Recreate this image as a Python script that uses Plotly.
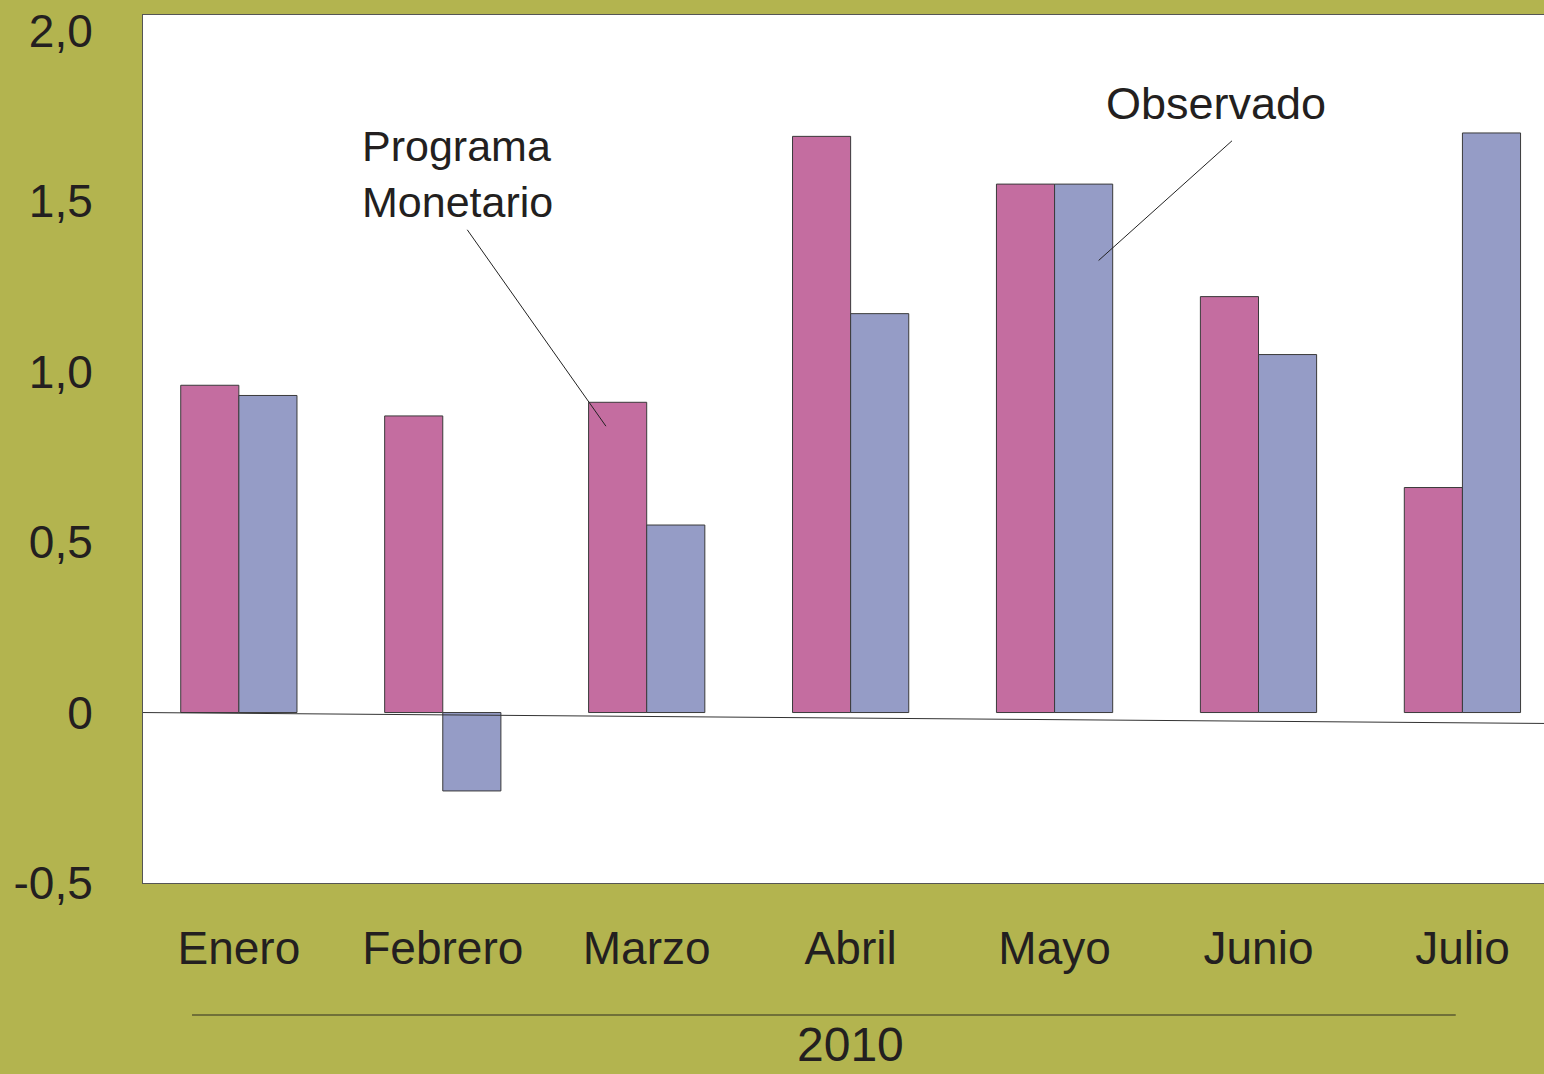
"""Programa Monetario vs Observado, 2010 monthly bars."""

import plotly.graph_objects as go

months = ["Enero", "Febrero", "Marzo", "Abril", "Mayo", "Junio", "Julio"]
programa = [0.96, 0.87, 0.91, 1.69, 1.55, 1.22, 0.66]
observado = [0.93, -0.23, 0.55, 1.17, 1.55, 1.05, 1.70]
y_ticks = [2.0, 1.5, 1.0, 0.5, 0.0, -0.5]
y_labels = ["2,0", "1,5", "1,0", "0,5", "0", "-0,5"]

OLIVE = "#b3b44f"
PINK = "#c46da0"
BLUE = "#959cc6"
FONT = "Liberation Sans"
TEXT = "#231f20"

fig = go.Figure()
fig.add_trace(go.Bar(x=months, y=programa, name="Programa Monetario",
                     marker=dict(color=PINK, line=dict(color="#3a3a3a", width=1))))
fig.add_trace(go.Bar(x=months, y=observado, name="Observado",
                     marker=dict(color=BLUE, line=dict(color="#3a3a3a", width=1))))

# slightly tilted zero line like the original
fig.add_shape(type="line", xref="paper", yref="y", x0=0, x1=1, y0=0, y1=-0.032,
              line=dict(color="#333333", width=1))

# labels with leader lines
fig.add_annotation(x=0.593, y=1.58, text="Programa<br>Monetario", showarrow=False,
                   xanchor="left", align="left", font=dict(family=FONT, size=43, color=TEXT))
fig.add_shape(type="line", x0=1.12, y0=1.416, x1=1.80, y1=0.84,
              line=dict(color="#222222", width=1))
fig.add_annotation(x=4.79, y=1.786, text="Observado", showarrow=False,
                   font=dict(family=FONT, size=45, color=TEXT))
fig.add_shape(type="line", x0=4.87, y0=1.677, x1=4.216, y1=1.326,
              line=dict(color="#222222", width=1))

# year bracket under the months
fig.add_shape(type="line", xref="paper", yref="paper", x0=0.035, x1=0.937, y0=-0.152, y1=-0.152,
              line=dict(color="#5a5a30", width=1.5))
fig.add_annotation(xref="paper", yref="paper", x=0.505, y=-0.186, text="2010", showarrow=False,
                   yanchor="middle", font=dict(family=FONT, size=48, color=TEXT))

fig.update_layout(
    width=1544, height=1074,
    margin=dict(l=143, r=0, t=15, b=191),
    paper_bgcolor=OLIVE, plot_bgcolor="white",
    barmode="group", bargap=0.43, bargroupgap=0,
    showlegend=False,
    font=dict(family=FONT, color=TEXT),
)
fig.update_xaxes(range=[-0.47, 6.40], showgrid=False, zeroline=False,
                 showline=True, linecolor="#555555", linewidth=1, mirror=True,
                 ticks="", ticklabelstandoff=25,
                 tickfont=dict(family=FONT, size=46, color=TEXT))
fig.update_yaxes(range=[-0.5, 2.046], tickvals=y_ticks, ticktext=y_labels,
                 showgrid=False, zeroline=False,
                 showline=True, linecolor="#555555", linewidth=1,
                 ticks="", ticklabelstandoff=40,
                 tickfont=dict(family=FONT, size=46, color=TEXT))

fig.write_html("out.html", config={"displayModeBar": False},
               post_script="document.body.style.margin='0';document.body.style.overflow='hidden';")
